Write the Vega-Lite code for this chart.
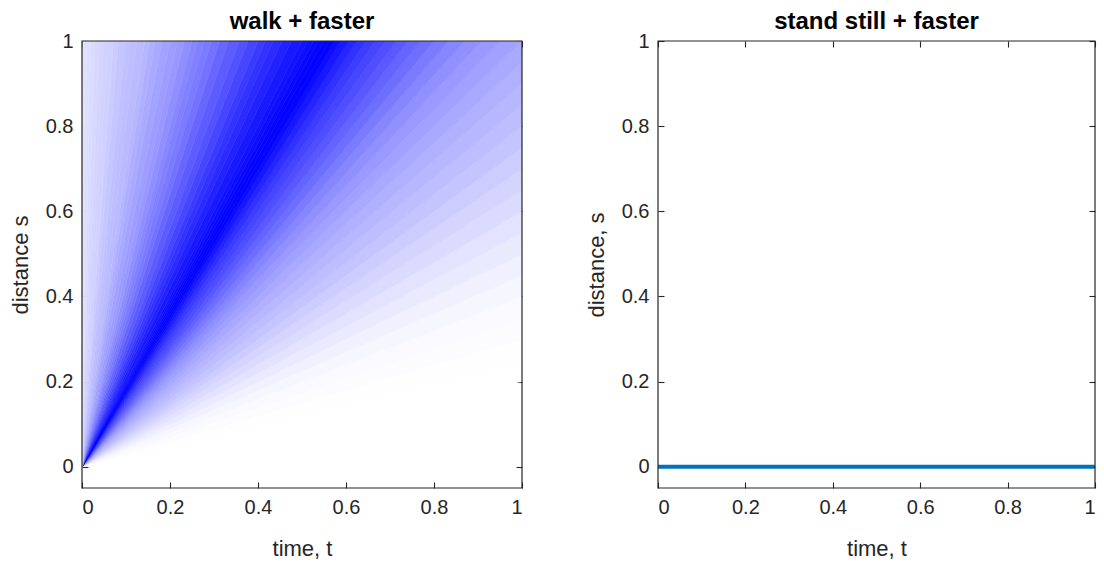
{
  "$schema": "https://vega.github.io/schema/vega-lite/v6.json",
  "background": "white",
  "padding": {"left": 9, "right": 5, "top": 10, "bottom": 5},
  "spacing": 62,
  "config": {
    "view": {"stroke": null},
    "font": "Liberation Sans",
    "axis": {
      "labelFont": "Liberation Sans",
      "labelFontSize": 20,
      "labelColor": "#262626",
      "titleFont": "Liberation Sans",
      "titleFontSize": 22,
      "titleFontWeight": "normal",
      "titleColor": "#262626",
      "tickColor": "#262626",
      "tickSize": -6,
      "tickWidth": 1.1,
      "labelPadding": 15,
      "titlePadding": 13,
      "domain": false,
      "grid": false
    },
    "axisBottom": {"titlePadding": 21, "labelPadding": 15},
    "title": {"font": "Liberation Sans", "fontSize": 24, "fontWeight": "bold", "color": "#000000", "offset": -3}
  },
  "datasets": {
    "fan": [
      {"w":1,"t":0,"lo":0,"hi":0,"c":0.0},{"w":1,"t":1,"lo":0.2,"hi":0.25,"c":0.0},
      {"w":2,"t":0,"lo":0,"hi":0,"c":0.004},{"w":2,"t":1,"lo":0.25,"hi":0.3,"c":0.004},
      {"w":3,"t":0,"lo":0,"hi":0,"c":0.011},{"w":3,"t":1,"lo":0.3,"hi":0.35,"c":0.011},
      {"w":4,"t":0,"lo":0,"hi":0,"c":0.022},{"w":4,"t":1,"lo":0.35,"hi":0.4,"c":0.022},
      {"w":5,"t":0,"lo":0,"hi":0,"c":0.037},{"w":5,"t":1,"lo":0.4,"hi":0.45,"c":0.037},
      {"w":6,"t":0,"lo":0,"hi":0,"c":0.057},{"w":6,"t":1,"lo":0.45,"hi":0.5,"c":0.057},
      {"w":7,"t":0,"lo":0,"hi":0,"c":0.082},{"w":7,"t":1,"lo":0.5,"hi":0.55,"c":0.082},
      {"w":8,"t":0,"lo":0,"hi":0,"c":0.11},{"w":8,"t":1,"lo":0.55,"hi":0.6,"c":0.11},
      {"w":9,"t":0,"lo":0,"hi":0,"c":0.14},{"w":9,"t":1,"lo":0.6,"hi":0.65,"c":0.14},
      {"w":10,"t":0,"lo":0,"hi":0,"c":0.17},{"w":10,"t":1,"lo":0.65,"hi":0.7,"c":0.17},
      {"w":11,"t":0,"lo":0,"hi":0,"c":0.2},{"w":11,"t":1,"lo":0.7,"hi":0.75,"c":0.2},
      {"w":12,"t":0,"lo":0,"hi":0,"c":0.23},{"w":12,"t":1,"lo":0.75,"hi":0.8,"c":0.23},
      {"w":13,"t":0,"lo":0,"hi":0,"c":0.257},{"w":13,"t":1,"lo":0.8,"hi":0.85,"c":0.257},
      {"w":14,"t":0,"lo":0,"hi":0,"c":0.283},{"w":14,"t":1,"lo":0.85,"hi":0.9,"c":0.283},
      {"w":15,"t":0,"lo":0,"hi":0,"c":0.31},{"w":15,"t":1,"lo":0.9,"hi":0.95,"c":0.31},
      {"w":16,"t":0,"lo":0,"hi":0,"c":0.338},{"w":16,"t":1,"lo":0.95,"hi":1.0,"c":0.338},
      {"w":17,"t":0,"lo":0,"hi":0,"c":0.368},{"w":17,"t":1,"lo":1.0,"hi":1.05,"c":0.368},
      {"w":18,"t":0,"lo":0,"hi":0,"c":0.4},{"w":18,"t":1,"lo":1.05,"hi":1.1,"c":0.4},
      {"w":19,"t":0,"lo":0,"hi":0,"c":0.435},{"w":19,"t":1,"lo":1.1,"hi":1.15,"c":0.435},
      {"w":20,"t":0,"lo":0,"hi":0,"c":0.475},{"w":20,"t":1,"lo":1.15,"hi":1.2,"c":0.475},
      {"w":21,"t":0,"lo":0,"hi":0,"c":0.518},{"w":21,"t":1,"lo":1.2,"hi":1.25,"c":0.518},
      {"w":22,"t":0,"lo":0,"hi":0,"c":0.563},{"w":22,"t":1,"lo":1.25,"hi":1.3,"c":0.563},
      {"w":23,"t":0,"lo":0,"hi":0,"c":0.608},{"w":23,"t":1,"lo":1.3,"hi":1.35,"c":0.608},
      {"w":24,"t":0,"lo":0,"hi":0,"c":0.65},{"w":24,"t":1,"lo":1.35,"hi":1.4,"c":0.65},
      {"w":25,"t":0,"lo":0,"hi":0,"c":0.69},{"w":25,"t":1,"lo":1.4,"hi":1.45,"c":0.69},
      {"w":26,"t":0,"lo":0,"hi":0,"c":0.725},{"w":26,"t":1,"lo":1.45,"hi":1.5,"c":0.725},
      {"w":27,"t":0,"lo":0,"hi":0,"c":0.762},{"w":27,"t":1,"lo":1.5,"hi":1.55,"c":0.762},
      {"w":28,"t":0,"lo":0,"hi":0,"c":0.805},{"w":28,"t":1,"lo":1.55,"hi":1.6,"c":0.805},
      {"w":29,"t":0,"lo":0,"hi":0,"c":0.855},{"w":29,"t":1,"lo":1.6,"hi":1.65,"c":0.855},
      {"w":30,"t":0,"lo":0,"hi":0,"c":0.905},{"w":30,"t":1,"lo":1.65,"hi":1.7,"c":0.905},
      {"w":31,"t":0,"lo":0,"hi":0,"c":0.954},{"w":31,"t":1,"lo":1.7,"hi":1.74,"c":0.954},
      {"w":32,"t":0,"lo":0,"hi":0,"c":0.99},{"w":32,"t":1,"lo":1.74,"hi":1.78,"c":0.99},
      {"w":33,"t":0,"lo":0,"hi":0,"c":0.993},{"w":33,"t":1,"lo":1.78,"hi":1.82,"c":0.993},
      {"w":34,"t":0,"lo":0,"hi":0,"c":0.983},{"w":34,"t":1,"lo":1.82,"hi":1.86,"c":0.983},
      {"w":35,"t":0,"lo":0,"hi":0,"c":0.968},{"w":35,"t":1,"lo":1.86,"hi":1.9,"c":0.968},
      {"w":36,"t":0,"lo":0,"hi":0,"c":0.95},{"w":36,"t":1,"lo":1.9,"hi":1.95,"c":0.95},
      {"w":37,"t":0,"lo":0,"hi":0,"c":0.93},{"w":37,"t":1,"lo":1.95,"hi":2.0,"c":0.93},
      {"w":38,"t":0,"lo":0,"hi":0,"c":0.903},{"w":38,"t":1,"lo":2.0,"hi":2.1,"c":0.903},
      {"w":39,"t":0,"lo":0,"hi":0,"c":0.868},{"w":39,"t":1,"lo":2.1,"hi":2.2,"c":0.868},
      {"w":40,"t":0,"lo":0,"hi":0,"c":0.833},{"w":40,"t":1,"lo":2.2,"hi":2.3,"c":0.833},
      {"w":41,"t":0,"lo":0,"hi":0,"c":0.8},{"w":41,"t":1,"lo":2.3,"hi":2.4,"c":0.8},
      {"w":42,"t":0,"lo":0,"hi":0,"c":0.767},{"w":42,"t":1,"lo":2.4,"hi":2.5,"c":0.767},
      {"w":43,"t":0,"lo":0,"hi":0,"c":0.725},{"w":43,"t":1,"lo":2.5,"hi":2.65,"c":0.725},
      {"w":44,"t":0,"lo":0,"hi":0,"c":0.68},{"w":44,"t":1,"lo":2.65,"hi":2.8,"c":0.68},
      {"w":45,"t":0,"lo":0,"hi":0,"c":0.64},{"w":45,"t":1,"lo":2.8,"hi":3.0,"c":0.64},
      {"w":46,"t":0,"lo":0,"hi":0,"c":0.595},{"w":46,"t":1,"lo":3.0,"hi":3.2,"c":0.595},
      {"w":47,"t":0,"lo":0,"hi":0,"c":0.55},{"w":47,"t":1,"lo":3.2,"hi":3.4,"c":0.55},
      {"w":48,"t":0,"lo":0,"hi":0,"c":0.517},{"w":48,"t":1,"lo":3.4,"hi":3.6,"c":0.517},
      {"w":49,"t":0,"lo":0,"hi":0,"c":0.494},{"w":49,"t":1,"lo":3.6,"hi":3.8,"c":0.494},
      {"w":50,"t":0,"lo":0,"hi":0,"c":0.47},{"w":50,"t":1,"lo":3.8,"hi":4.0,"c":0.47},
      {"w":51,"t":0,"lo":0,"hi":0,"c":0.44},{"w":51,"t":1,"lo":4.0,"hi":4.3,"c":0.44},
      {"w":52,"t":0,"lo":0,"hi":0,"c":0.405},{"w":52,"t":1,"lo":4.3,"hi":4.6,"c":0.405},
      {"w":53,"t":0,"lo":0,"hi":0,"c":0.385},{"w":53,"t":1,"lo":4.6,"hi":5.0,"c":0.385},
      {"w":54,"t":0,"lo":0,"hi":0,"c":0.363},{"w":54,"t":1,"lo":5.0,"hi":5.5,"c":0.363},
      {"w":55,"t":0,"lo":0,"hi":0,"c":0.338},{"w":55,"t":1,"lo":5.5,"hi":6.0,"c":0.338},
      {"w":56,"t":0,"lo":0,"hi":0,"c":0.313},{"w":56,"t":1,"lo":6.0,"hi":6.5,"c":0.313},
      {"w":57,"t":0,"lo":0,"hi":0,"c":0.288},{"w":57,"t":1,"lo":6.5,"hi":7.0,"c":0.288},
      {"w":58,"t":0,"lo":0,"hi":0,"c":0.272},{"w":58,"t":1,"lo":7.0,"hi":8.0,"c":0.272},
      {"w":59,"t":0,"lo":0,"hi":0,"c":0.26},{"w":59,"t":1,"lo":8.0,"hi":9.0,"c":0.26},
      {"w":60,"t":0,"lo":0,"hi":0,"c":0.247},{"w":60,"t":1,"lo":9.0,"hi":10.0,"c":0.247},
      {"w":61,"t":0,"lo":0,"hi":0,"c":0.227},{"w":61,"t":1,"lo":10.0,"hi":12.0,"c":0.227},
      {"w":62,"t":0,"lo":0,"hi":0,"c":0.202},{"w":62,"t":1,"lo":12.0,"hi":14.0,"c":0.202},
      {"w":63,"t":0,"lo":0,"hi":0,"c":0.179},{"w":63,"t":1,"lo":14.0,"hi":17.0,"c":0.179},
      {"w":64,"t":0,"lo":0,"hi":0,"c":0.175},{"w":64,"t":1,"lo":17.0,"hi":20.0,"c":0.175},
      {"w":65,"t":0,"lo":0,"hi":0,"c":0.169},{"w":65,"t":1,"lo":20.0,"hi":25.0,"c":0.169},
      {"w":66,"t":0,"lo":0,"hi":0,"c":0.158},{"w":66,"t":1,"lo":25.0,"hi":35.0,"c":0.158},
      {"w":67,"t":0,"lo":0,"hi":0,"c":0.141},{"w":67,"t":1,"lo":35.0,"hi":50.0,"c":0.141},
      {"w":68,"t":0,"lo":0,"hi":0,"c":0.13},{"w":68,"t":1,"lo":50.0,"hi":100.0,"c":0.13},
      {"w":69,"t":0,"lo":0,"hi":0,"c":0.12},{"w":69,"t":1,"lo":100.0,"hi":1000.0,"c":0.12}
    ],
    "still": [
      {"t":0,"s":0},{"t":0.1,"s":0},{"t":0.2,"s":0},{"t":0.3,"s":0},{"t":0.4,"s":0},{"t":0.5,"s":0},
      {"t":0.6,"s":0},{"t":0.7,"s":0},{"t":0.8,"s":0},{"t":0.9,"s":0},{"t":1,"s":0}
    ]
  },
  "hconcat": [
    {
      "width": 440,
      "height": 447,
      "title": {"text": "walk + faster"},
      "layer": [
        {
          "data": {"name": "fan"},
          "mark": {"type": "area", "clip": true, "strokeWidth": 0.6, "interpolate": "linear"},
          "encoding": {
            "x": {"field": "t", "type": "quantitative", "scale": {"domain": [0, 1], "nice": false, "zero": false},
                  "axis": {"orient": "bottom", "values": [0, 0.2, 0.4, 0.6, 0.8, 1], "format": "~g", "title": "time, t"}},
            "y": {"field": "lo", "type": "quantitative", "stack": null, "scale": {"domain": [-0.05, 1], "nice": false, "zero": false},
                  "axis": {"orient": "left", "values": [0, 0.2, 0.4, 0.6, 0.8, 1], "format": "~g", "title": "distance s"}},
            "y2": {"field": "hi"},
            "detail": {"field": "w", "type": "nominal"},
            "color": {"field": "c", "type": "quantitative", "legend": null,
                      "scale": {"type": "linear", "domain": [0, 1], "range": ["#ffffff", "#0000ff"], "interpolate": "rgb"}},
            "stroke": {"field": "c", "type": "quantitative", "legend": null,
                       "scale": {"type": "linear", "domain": [0, 1], "range": ["#ffffff", "#0000ff"], "interpolate": "rgb"}}
          }
        },
        {
          "data": {"values": [{}]},
          "mark": {"type": "rect", "fill": "transparent", "stroke": "#262626", "strokeWidth": 1.2},
          "encoding": {
            "x": {"datum": 0, "type": "quantitative", "axis": {"orient": "top", "labels": false, "title": null, "maxExtent": 0, "minExtent": 0, "values": [0, 0.2, 0.4, 0.6, 0.8, 1]}},
            "x2": {"datum": 1},
            "y": {"datum": -0.05, "type": "quantitative", "axis": {"orient": "right", "labels": false, "title": null, "maxExtent": 0, "minExtent": 0, "values": [0, 0.2, 0.4, 0.6, 0.8, 1]}},
            "y2": {"datum": 1}
          }
        }
      ],
      "resolve": {"axis": {"x": "independent", "y": "independent"}}
    },
    {
      "width": 437,
      "height": 447,
      "title": {"text": "stand still + faster"},
      "layer": [
        {
          "data": {"name": "still"},
          "mark": {"type": "line", "stroke": "#0072BD", "strokeWidth": 4, "strokeCap": "butt"},
          "encoding": {
            "x": {"field": "t", "type": "quantitative", "scale": {"domain": [0, 1], "nice": false, "zero": false},
                  "axis": {"orient": "bottom", "values": [0, 0.2, 0.4, 0.6, 0.8, 1], "format": "~g", "title": "time, t"}},
            "y": {"field": "s", "type": "quantitative", "scale": {"domain": [-0.05, 1], "nice": false, "zero": false},
                  "axis": {"orient": "left", "values": [0, 0.2, 0.4, 0.6, 0.8, 1], "format": "~g", "title": "distance, s"}}
          }
        },
        {
          "data": {"values": [{}]},
          "mark": {"type": "rect", "fill": "transparent", "stroke": "#262626", "strokeWidth": 1.2},
          "encoding": {
            "x": {"datum": 0, "type": "quantitative", "axis": {"orient": "top", "labels": false, "title": null, "maxExtent": 0, "minExtent": 0, "values": [0, 0.2, 0.4, 0.6, 0.8, 1]}},
            "x2": {"datum": 1},
            "y": {"datum": -0.05, "type": "quantitative", "axis": {"orient": "right", "labels": false, "title": null, "maxExtent": 0, "minExtent": 0, "values": [0, 0.2, 0.4, 0.6, 0.8, 1]}},
            "y2": {"datum": 1}
          }
        }
      ],
      "resolve": {"axis": {"x": "independent", "y": "independent"}}
    }
  ]
}
